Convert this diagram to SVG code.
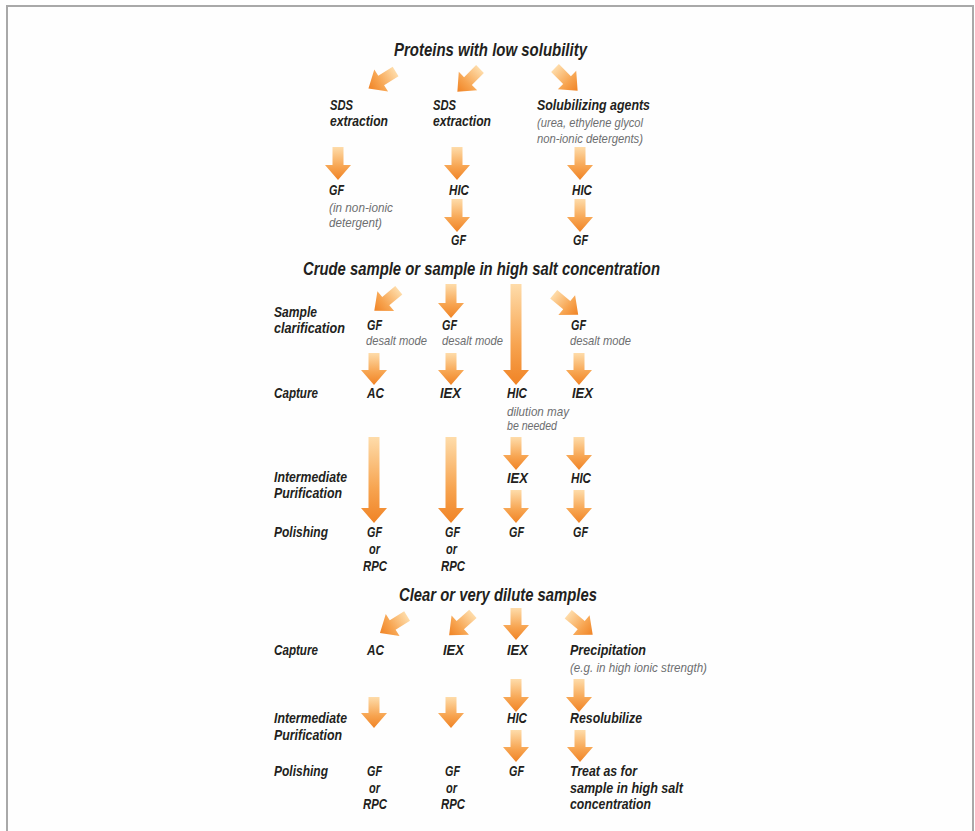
<svg xmlns="http://www.w3.org/2000/svg" width="975" height="831" viewBox="0 0 975 831">
<style>
text{font-family:"Liberation Sans",Arial,sans-serif;font-style:italic}
.t{font-size:17.5px;font-weight:bold;fill:#231f20}
.l{font-size:15px;font-weight:bold;fill:#231f20}
.s{font-size:13.5px;fill:#6d6e70}
.a{fill:url(#g)}
</style>
<defs>
<linearGradient id="g" x1="0" y1="0" x2="0" y2="1">
<stop offset="0" stop-color="#fedcaa"/>
<stop offset="0.6" stop-color="#f7a450"/>
<stop offset="1" stop-color="#f08325"/>
</linearGradient>
</defs>
<rect x="0" y="0" width="975" height="831" fill="#ffffff"/>
<rect x="7" y="6" width="966" height="840" fill="#fefefe" stroke="#a9a9a9" stroke-width="2"/>

<g id="connectors">
<path class="a" transform="translate(395.6,71.5) rotate(58)" d="M-5.5,0H5.5V17H13L0,32L-13,17H-5.5Z"/>
<path class="a" transform="translate(480,69) rotate(45)" d="M-5.5,0H5.5V17H13L0,32L-13,17H-5.5Z"/>
<path class="a" transform="translate(555,68) rotate(-45)" d="M-5.5,0H5.5V17H13L0,32L-13,17H-5.5Z"/>
<path class="a" transform="translate(398.8,290.2) rotate(50)" d="M-5.5,0H5.5V17H13L0,32L-13,17H-5.5Z"/>
<path class="a" transform="translate(553.7,294.2) rotate(-50)" d="M-5.5,0H5.5V17H13L0,32L-13,17H-5.5Z"/>
<path class="a" transform="translate(407.1,616) rotate(58)" d="M-5.5,0H5.5V17H13L0,32L-13,17H-5.5Z"/>
<path class="a" transform="translate(472.9,613.8) rotate(48)" d="M-5.5,0H5.5V17H13L0,32L-13,17H-5.5Z"/>
<path class="a" transform="translate(568.2,614.2) rotate(-50)" d="M-5.5,0H5.5V17H13L0,32L-13,17H-5.5Z"/>
<path class="a" d="M332.5,147H343.5V165H351L338,180L325,165H332.5Z"/>
<path class="a" d="M451.5,147H462.5V165H470L457,180L444,165H451.5Z"/>
<path class="a" d="M574.5,147H585.5V165H593L580,180L567,165H574.5Z"/>
<path class="a" d="M451.5,199H462.5V217H470L457,232L444,217H451.5Z"/>
<path class="a" d="M574.5,199H585.5V217H593L580,232L567,217H574.5Z"/>
<path class="a" d="M445.5,284H456.5V303H464L451,318L438,303H445.5Z"/>
<path class="a" d="M510.5,284H521.5V370H529L516,385L503,370H510.5Z"/>
<path class="a" d="M368.5,353H379.5V370H387L374,385L361,370H368.5Z"/>
<path class="a" d="M445.5,353H456.5V370H464L451,385L438,370H445.5Z"/>
<path class="a" d="M573.5,353H584.5V370H592L579,385L566,370H573.5Z"/>
<path class="a" d="M368.5,437H379.5V508H387L374,523L361,508H368.5Z"/>
<path class="a" d="M445.5,437H456.5V508H464L451,523L438,508H445.5Z"/>
<path class="a" d="M510.5,437H521.5V455H529L516,470L503,455H510.5Z"/>
<path class="a" d="M573.5,437H584.5V455H592L579,470L566,455H573.5Z"/>
<path class="a" d="M510.5,490H521.5V508H529L516,523L503,508H510.5Z"/>
<path class="a" d="M573.5,490H584.5V508H592L579,523L566,508H573.5Z"/>
<path class="a" d="M510.5,608H521.5V625H529L516,640L503,625H510.5Z"/>
<path class="a" d="M510.5,679H521.5V697H529L516,712L503,697H510.5Z"/>
<path class="a" d="M573.5,679H584.5V697H592L579,712L566,697H573.5Z"/>
<path class="a" d="M368.5,697H379.5V713H387L374,728L361,713H368.5Z"/>
<path class="a" d="M445.5,697H456.5V713H464L451,728L438,713H445.5Z"/>
<path class="a" d="M510.5,730H521.5V747H529L516,762L503,747H510.5Z"/>
<path class="a" d="M574.5,730H585.5V747H593L580,762L567,747H574.5Z"/>
</g>

<g id="titles">
<text class="t" x="394" y="56" textLength="193" lengthAdjust="spacingAndGlyphs">Proteins with low solubility</text>
<text class="t" x="303" y="275" textLength="357" lengthAdjust="spacingAndGlyphs">Crude sample or sample in high salt concentration</text>
<text class="t" x="399" y="601" textLength="198" lengthAdjust="spacingAndGlyphs">Clear or very dilute samples</text>
</g>

<g id="stage-labels">
<text class="l" x="274" y="317" textLength="43" lengthAdjust="spacingAndGlyphs">Sample</text>
<text class="l" x="274" y="333" textLength="71" lengthAdjust="spacingAndGlyphs">clarification</text>
<text class="l" x="274" y="398" textLength="44" lengthAdjust="spacingAndGlyphs">Capture</text>
<text class="l" x="274" y="482" textLength="73" lengthAdjust="spacingAndGlyphs">Intermediate</text>
<text class="l" x="274" y="498" textLength="68" lengthAdjust="spacingAndGlyphs">Purification</text>
<text class="l" x="274" y="537" textLength="54" lengthAdjust="spacingAndGlyphs">Polishing</text>
<text class="l" x="274" y="655" textLength="44" lengthAdjust="spacingAndGlyphs">Capture</text>
<text class="l" x="274" y="723" textLength="73" lengthAdjust="spacingAndGlyphs">Intermediate</text>
<text class="l" x="274" y="740" textLength="68" lengthAdjust="spacingAndGlyphs">Purification</text>
<text class="l" x="274" y="776" textLength="54" lengthAdjust="spacingAndGlyphs">Polishing</text>
</g>

<g id="low-solubility">
<g id="n-sds1"><text class="l" x="330" y="110" textLength="23" lengthAdjust="spacingAndGlyphs">SDS</text><text class="l" x="330" y="126" textLength="58" lengthAdjust="spacingAndGlyphs">extraction</text></g>
<g id="n-sds2"><text class="l" x="433" y="110" textLength="23" lengthAdjust="spacingAndGlyphs">SDS</text><text class="l" x="433" y="126" textLength="58" lengthAdjust="spacingAndGlyphs">extraction</text></g>
<g id="n-solub"><text class="l" x="537" y="110" textLength="113" lengthAdjust="spacingAndGlyphs">Solubilizing agents</text><text class="s" x="537" y="127" textLength="106" lengthAdjust="spacingAndGlyphs">(urea, ethylene glycol</text><text class="s" x="537" y="143" textLength="106" lengthAdjust="spacingAndGlyphs">non-ionic detergents)</text></g>
<g id="n-gf1"><text class="l" x="329" y="195" textLength="15" lengthAdjust="spacingAndGlyphs">GF</text><text class="s" x="329" y="212" textLength="64" lengthAdjust="spacingAndGlyphs">(in non-ionic</text><text class="s" x="329" y="227" textLength="53" lengthAdjust="spacingAndGlyphs">detergent)</text></g>
<g id="n-hic1"><text class="l" x="449" y="195" textLength="20" lengthAdjust="spacingAndGlyphs">HIC</text></g>
<g id="n-hic2"><text class="l" x="572" y="195" textLength="20" lengthAdjust="spacingAndGlyphs">HIC</text></g>
<g id="n-gf2"><text class="l" x="451" y="245" textLength="15" lengthAdjust="spacingAndGlyphs">GF</text></g>
<g id="n-gf3"><text class="l" x="573" y="245" textLength="15" lengthAdjust="spacingAndGlyphs">GF</text></g>
</g>

<g id="crude">
<g id="c-gf1"><text class="l" x="367" y="330" textLength="15" lengthAdjust="spacingAndGlyphs">GF</text><text class="s" x="366" y="345" textLength="61" lengthAdjust="spacingAndGlyphs">desalt mode</text></g>
<g id="c-gf2"><text class="l" x="442" y="330" textLength="15" lengthAdjust="spacingAndGlyphs">GF</text><text class="s" x="442" y="345" textLength="61" lengthAdjust="spacingAndGlyphs">desalt mode</text></g>
<g id="c-gf4"><text class="l" x="571" y="330" textLength="15" lengthAdjust="spacingAndGlyphs">GF</text><text class="s" x="570" y="345" textLength="61" lengthAdjust="spacingAndGlyphs">desalt mode</text></g>
<g id="c-ac"><text class="l" x="367" y="398" textLength="17" lengthAdjust="spacingAndGlyphs">AC</text></g>
<g id="c-iex2"><text class="l" x="440" y="398" textLength="21" lengthAdjust="spacingAndGlyphs">IEX</text></g>
<g id="c-hic3"><text class="l" x="507" y="398" textLength="20" lengthAdjust="spacingAndGlyphs">HIC</text><text class="s" x="507" y="416" textLength="62" lengthAdjust="spacingAndGlyphs">dilution may</text><text class="s" x="507" y="430" textLength="50" lengthAdjust="spacingAndGlyphs">be needed</text></g>
<g id="c-iex4"><text class="l" x="572" y="398" textLength="21" lengthAdjust="spacingAndGlyphs">IEX</text></g>
<g id="c-iex3"><text class="l" x="507" y="483" textLength="21" lengthAdjust="spacingAndGlyphs">IEX</text></g>
<g id="c-hic4"><text class="l" x="571" y="483" textLength="20" lengthAdjust="spacingAndGlyphs">HIC</text></g>
<g id="c-p1"><text class="l" x="367" y="537" textLength="15" lengthAdjust="spacingAndGlyphs">GF</text><text class="l" x="369" y="554" textLength="11" lengthAdjust="spacingAndGlyphs">or</text><text class="l" x="363" y="571" textLength="24" lengthAdjust="spacingAndGlyphs">RPC</text></g>
<g id="c-p2"><text class="l" x="445" y="537" textLength="15" lengthAdjust="spacingAndGlyphs">GF</text><text class="l" x="446" y="554" textLength="11" lengthAdjust="spacingAndGlyphs">or</text><text class="l" x="441" y="571" textLength="24" lengthAdjust="spacingAndGlyphs">RPC</text></g>
<g id="c-p3"><text class="l" x="509" y="537" textLength="15" lengthAdjust="spacingAndGlyphs">GF</text></g>
<g id="c-p4"><text class="l" x="573" y="537" textLength="15" lengthAdjust="spacingAndGlyphs">GF</text></g>
</g>

<g id="clear">
<g id="d-ac"><text class="l" x="367" y="655" textLength="17" lengthAdjust="spacingAndGlyphs">AC</text></g>
<g id="d-iex2"><text class="l" x="443" y="655" textLength="21" lengthAdjust="spacingAndGlyphs">IEX</text></g>
<g id="d-iex3"><text class="l" x="507" y="655" textLength="21" lengthAdjust="spacingAndGlyphs">IEX</text></g>
<g id="d-prec"><text class="l" x="570" y="655" textLength="76" lengthAdjust="spacingAndGlyphs">Precipitation</text><text class="s" x="570" y="672" textLength="137" lengthAdjust="spacingAndGlyphs">(e.g. in high ionic strength)</text></g>
<g id="d-hic"><text class="l" x="507" y="723" textLength="20" lengthAdjust="spacingAndGlyphs">HIC</text></g>
<g id="d-resol"><text class="l" x="570" y="723" textLength="72" lengthAdjust="spacingAndGlyphs">Resolubilize</text></g>
<g id="d-p1"><text class="l" x="367" y="776" textLength="15" lengthAdjust="spacingAndGlyphs">GF</text><text class="l" x="369" y="793" textLength="11" lengthAdjust="spacingAndGlyphs">or</text><text class="l" x="363" y="809" textLength="24" lengthAdjust="spacingAndGlyphs">RPC</text></g>
<g id="d-p2"><text class="l" x="445" y="776" textLength="15" lengthAdjust="spacingAndGlyphs">GF</text><text class="l" x="446" y="793" textLength="11" lengthAdjust="spacingAndGlyphs">or</text><text class="l" x="441" y="809" textLength="24" lengthAdjust="spacingAndGlyphs">RPC</text></g>
<g id="d-p3"><text class="l" x="509" y="776" textLength="15" lengthAdjust="spacingAndGlyphs">GF</text></g>
<g id="d-treat"><text class="l" x="570" y="776" textLength="67" lengthAdjust="spacingAndGlyphs">Treat as for</text><text class="l" x="570" y="793" textLength="113" lengthAdjust="spacingAndGlyphs">sample in high salt</text><text class="l" x="570" y="809" textLength="81" lengthAdjust="spacingAndGlyphs">concentration</text></g>
</g>
</svg>
